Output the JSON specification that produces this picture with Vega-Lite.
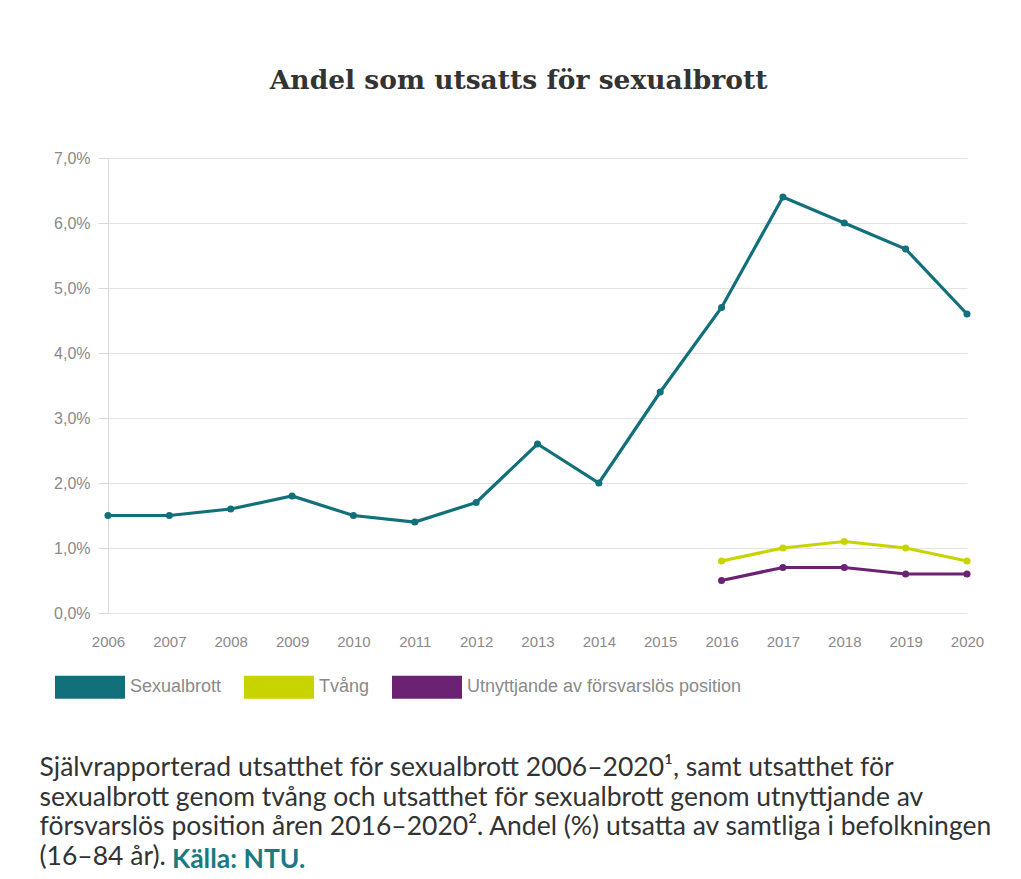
{
  "$schema": "https://vega.github.io/schema/vega-lite/v6.json",
  "background": "white",
  "padding": {"left": 39, "top": 67, "right": 10, "bottom": 5},
  "config": {
    "locale": {"number": {"decimal": ",", "thousands": " ", "grouping": [3], "currency": ["", " kr"]}},
    "view": {"stroke": null},
    "font": "Lato"
  },
  "title": {
    "text": [
      "Självrapporterad utsatthet för sexualbrott 2006–2020¹, samt utsatthet för",
      "sexualbrott genom tvång och utsatthet för sexualbrott genom utnyttjande av",
      "försvarslös position åren 2016–2020². Andel (%) utsatta av samtliga i befolkningen",
      "(16–84 år)."
    ],
    "subtitle": "\u200b\u2003\u2003\u2003\u2003\u2003\u2003\u2002Källa: NTU.",
    "orient": "bottom",
    "anchor": "start",
    "frame": "bounds",
    "offset": 56,
    "font": "Lato",
    "fontSize": 26.5,
    "fontWeight": "normal",
    "lineHeight": 29.5,
    "color": "#333333",
    "subtitleFont": "Lato",
    "subtitleFontSize": 26.5,
    "subtitleFontWeight": "bold",
    "subtitleColor": "#1a7a82",
    "subtitlePadding": -23,
    "dx": -14
  },
  "vconcat": [
    {
      "title": {
        "text": "Andel som utsatts för sexualbrott",
        "font": "DejaVu Serif",
        "fontSize": 26.5,
        "fontWeight": "bold",
        "color": "#333333",
        "anchor": "middle",
        "frame": "bounds",
        "offset": 56
      },
      "width": 859,
      "height": 455,
      "data": {
        "values": [
          {"year": "2006", "serie": "Sexualbrott", "andel": 0.015},
          {"year": "2007", "serie": "Sexualbrott", "andel": 0.015},
          {"year": "2008", "serie": "Sexualbrott", "andel": 0.016},
          {"year": "2009", "serie": "Sexualbrott", "andel": 0.018},
          {"year": "2010", "serie": "Sexualbrott", "andel": 0.015},
          {"year": "2011", "serie": "Sexualbrott", "andel": 0.014},
          {"year": "2012", "serie": "Sexualbrott", "andel": 0.017},
          {"year": "2013", "serie": "Sexualbrott", "andel": 0.026},
          {"year": "2014", "serie": "Sexualbrott", "andel": 0.020},
          {"year": "2015", "serie": "Sexualbrott", "andel": 0.034},
          {"year": "2016", "serie": "Sexualbrott", "andel": 0.047},
          {"year": "2017", "serie": "Sexualbrott", "andel": 0.064},
          {"year": "2018", "serie": "Sexualbrott", "andel": 0.060},
          {"year": "2019", "serie": "Sexualbrott", "andel": 0.056},
          {"year": "2020", "serie": "Sexualbrott", "andel": 0.046},
          {"year": "2016", "serie": "Tvång", "andel": 0.008},
          {"year": "2017", "serie": "Tvång", "andel": 0.010},
          {"year": "2018", "serie": "Tvång", "andel": 0.011},
          {"year": "2019", "serie": "Tvång", "andel": 0.010},
          {"year": "2020", "serie": "Tvång", "andel": 0.008},
          {"year": "2016", "serie": "Utnyttjande av försvarslös position", "andel": 0.005},
          {"year": "2017", "serie": "Utnyttjande av försvarslös position", "andel": 0.007},
          {"year": "2018", "serie": "Utnyttjande av försvarslös position", "andel": 0.007},
          {"year": "2019", "serie": "Utnyttjande av försvarslös position", "andel": 0.006},
          {"year": "2020", "serie": "Utnyttjande av försvarslös position", "andel": 0.006}
        ]
      },
      "encoding": {
        "x": {
          "field": "year",
          "type": "ordinal",
          "scale": {"type": "point", "padding": 0},
          "axis": {
            "title": null,
            "labelAngle": 0,
            "domain": false,
            "ticks": false,
            "grid": false,
            "labelFont": "Liberation Sans",
            "labelFontSize": 15,
            "labelColor": "#8a8a8a",
            "labelPadding": 21
          }
        },
        "y": {
          "field": "andel",
          "type": "quantitative",
          "scale": {"domain": [0, 0.07], "nice": false},
          "axis": {
            "title": null,
            "format": ".1%",
            "values": [0, 0.01, 0.02, 0.03, 0.04, 0.05, 0.06, 0.07],
            "domain": true,
            "domainColor": "#d9d9d9",
            "ticks": true,
            "tickSize": 10,
            "tickColor": "#d9d9d9",
            "gridColor": "#e3e3e3",
            "labelPadding": 8,
            "labelFont": "Liberation Sans",
            "labelFontSize": 16,
            "labelColor": "#8a8a8a"
          }
        },
        "color": {
          "field": "serie",
          "type": "nominal",
          "scale": {
            "domain": ["Sexualbrott", "Tvång", "Utnyttjande av försvarslös position"],
            "range": ["#12707a", "#c8d400", "#6b2272"]
          },
          "legend": {
            "title": null,
            "orient": "none",
            "direction": "horizontal",
            "legendX": -53,
            "legendY": 494,
            "symbolType": "M-1,-0.33L1,-0.33L1,0.33L-1,0.33Z",
            "symbolSize": 4900,
            "symbolStrokeWidth": 0,
            "symbolOpacity": 1,
            "labelFont": "Liberation Sans",
            "labelFontSize": 18,
            "labelColor": "#8a8a8a",
            "labelLimit": 400,
            "labelOffset": 5,
            "columnPadding": 22
          }
        }
      },
      "layer": [
        {"mark": {"type": "line", "strokeWidth": 3.2}},
        {"mark": {"type": "point", "filled": true, "size": 50, "opacity": 1}}
      ]
    }
  ]
}
